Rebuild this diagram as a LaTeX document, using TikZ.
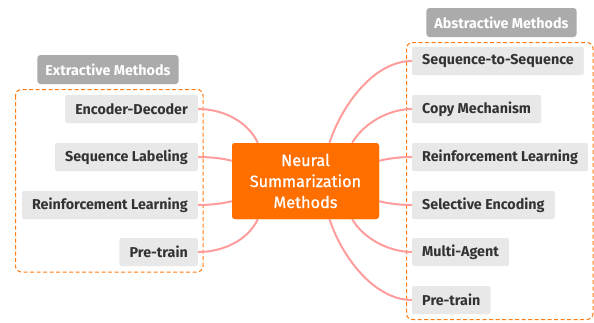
\documentclass[tikz,border=0pt]{standalone}
\usepackage{fontspec}
\setmainfont{Fira Sans}
\newfontfamily\cfont{Fira Sans}[FakeBold=0.8]
\definecolor{nodegray}{HTML}{E8E8E8}
\definecolor{labgray}{HTML}{ABABAB}
\definecolor{txt}{HTML}{333333}
\definecolor{mainorange}{HTML}{FF6F00}
\definecolor{dashorange}{HTML}{FF7A10}
\definecolor{linkpink}{HTML}{FF9C9C}
\begin{document}
\begin{tikzpicture}[x=1pt,y=1pt,
  child/.style={fill=nodegray, rounded corners=2pt, text=txt, font=\bfseries\fontsize{14.3}{16}\selectfont,
    minimum height=28pt, inner xsep=10pt, inner ysep=0pt},
  grouplabel/.style={fill=labgray, rounded corners=3pt, text=white, font=\bfseries\fontsize{14.3}{16}\selectfont,
    minimum height=29pt, inner xsep=8pt, inner ysep=0pt},
  central/.style={fill=mainorange, rounded corners=3pt, text=white, align=center,
    font=\cfont\fontsize{16.3}{21}\selectfont, minimum width=147pt, minimum height=76pt, inner sep=0pt},
  groupbox/.style={draw=dashorange, dashed, dash pattern=on 4pt off 2.5pt, line width=1pt, rounded corners=6pt},
  link/.style={draw=linkpink, line width=2pt}
]
\useasboundingbox (0,0) rectangle (594,-322);
% group frames
\draw[groupbox] (15.5,-89.5) rectangle (203,-272);
\draw[groupbox] (406.5,-42.5) rectangle (593,-319.5);
% central
\node[central] (c) at (305.5,-181) {Neural\\Summarization\\Methods};
% labels
\node[grouplabel, minimum width=140pt] (ext) at (108,-69.5) {Extractive Methods};
\node[grouplabel, minimum width=149pt] (abs) at (501.5,-22.5) {Abstractive Methods};
% left children
\node[child, anchor=east] (l1) at (198,-109) {Encoder-Decoder};
\node[child, anchor=east] (l2) at (198,-157) {Sequence Labeling};
\node[child, anchor=east] (l3) at (198,-205) {Reinforcement Learning};
\node[child, anchor=east] (l4) at (198,-252) {Pre-train};
% right children
\node[child, anchor=west] (r1) at (412,-61) {Sequence-to-Sequence};
\node[child, anchor=west] (r2) at (412,-109) {Copy Mechanism};
\node[child, anchor=west] (r3) at (412,-157) {Reinforcement Learning};
\node[child, anchor=west] (r4) at (412,-205) {Selective Encoding};
\node[child, anchor=west] (r5) at (412,-252) {Multi-Agent};
\node[child, anchor=west] (r6) at (412,-300) {Pre-train};
% links
\path[link] (l1.east) to[out=0,in=115,looseness=0.9] ([xshift=26pt]c.north west);
\path[link] (l2.east) to[out=0,in=165,looseness=0.8] ([yshift=-18pt]c.north west);
\path[link] (l3.east) to[out=0,in=195,looseness=0.8] ([yshift=18pt]c.south west);
\path[link] (l4.east) to[out=0,in=245,looseness=0.9] ([xshift=26pt]c.south west);
\path[link] (r1.west) to[out=180,in=72,looseness=0.85] ([xshift=24pt]c.north);
\path[link] (r2.west) to[out=180,in=60,looseness=0.85] ([xshift=-27pt]c.north east);
\path[link] (r3.west) to[out=180,in=15,looseness=0.8] ([yshift=-18pt]c.north east);
\path[link] (r4.west) to[out=180,in=-15,looseness=0.8] ([yshift=18pt]c.south east);
\path[link] (r5.west) to[out=180,in=-60,looseness=0.85] ([xshift=-27pt]c.south east);
\path[link] (r6.west) to[out=180,in=-72,looseness=0.85] ([xshift=24pt]c.south);
% redraw nodes on top
\node[central] at (c) {Neural\\Summarization\\Methods};
\foreach \n/\t in {l1/Encoder-Decoder,l2/Sequence Labeling,l3/Reinforcement Learning,l4/Pre-train,
  r1/Sequence-to-Sequence,r2/Copy Mechanism,r3/Reinforcement Learning,r4/Selective Encoding,r5/Multi-Agent,r6/Pre-train}
  {\node[child] at (\n) {\t};}
\end{tikzpicture}
\end{document}
